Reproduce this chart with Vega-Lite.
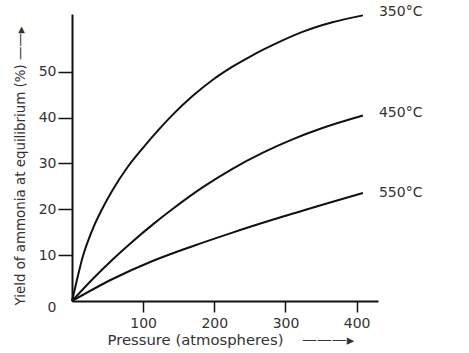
{
  "$schema": "https://vega.github.io/schema/vega-lite/v6.json",
  "width": 306,
  "height": 287,
  "autosize": "none",
  "padding": {"left": 72, "top": 14, "right": 91, "bottom": 52},
  "background": "white",
  "config": {"view": {"stroke": null}, "font": "DejaVu Sans"},
  "datasets": {
    "curves": [
      {"series": "350", "p": 0, "y": 0},
      {"series": "350", "p": 6.6, "y": 4.36},
      {"series": "350", "p": 15.0, "y": 9.59},
      {"series": "350", "p": 29.1, "y": 15.70},
      {"series": "350", "p": 43.1, "y": 20.28},
      {"series": "350", "p": 57.1, "y": 24.20},
      {"series": "350", "p": 78.2, "y": 29.22},
      {"series": "350", "p": 99.2, "y": 33.30},
      {"series": "350", "p": 120.3, "y": 37.10},
      {"series": "350", "p": 141.3, "y": 40.60},
      {"series": "350", "p": 169.4, "y": 44.70},
      {"series": "350", "p": 197.5, "y": 48.20},
      {"series": "350", "p": 225.5, "y": 51.10},
      {"series": "350", "p": 253.6, "y": 53.60},
      {"series": "350", "p": 281.7, "y": 55.80},
      {"series": "350", "p": 323.8, "y": 58.70},
      {"series": "350", "p": 365.9, "y": 60.80},
      {"series": "350", "p": 408.8, "y": 62.30},
      {"series": "450", "p": 0, "y": 0},
      {"series": "450", "p": 29.1, "y": 4.80},
      {"series": "450", "p": 57.1, "y": 9.07},
      {"series": "450", "p": 85.2, "y": 13.00},
      {"series": "450", "p": 113.3, "y": 16.66},
      {"series": "450", "p": 141.3, "y": 20.06},
      {"series": "450", "p": 183.4, "y": 24.77},
      {"series": "450", "p": 225.5, "y": 28.83},
      {"series": "450", "p": 267.6, "y": 32.29},
      {"series": "450", "p": 309.8, "y": 35.24},
      {"series": "450", "p": 351.9, "y": 37.72},
      {"series": "450", "p": 408.8, "y": 40.45},
      {"series": "550", "p": 0, "y": 0},
      {"series": "550", "p": 57.1, "y": 4.80},
      {"series": "550", "p": 113.3, "y": 8.72},
      {"series": "550", "p": 169.4, "y": 11.95},
      {"series": "550", "p": 225.5, "y": 14.92},
      {"series": "550", "p": 281.7, "y": 17.71},
      {"series": "550", "p": 351.9, "y": 20.98},
      {"series": "550", "p": 408.8, "y": 23.55}
    ],
    "labels": [
      {"label": "350°C", "p": 408.8, "y": 63.0},
      {"label": "450°C", "p": 408.8, "y": 41.0},
      {"label": "550°C", "p": 408.8, "y": 23.5}
    ]
  },
  "layer": [
    {
      "data": {"name": "curves"},
      "mark": {"type": "line", "interpolate": "monotone", "color": "#111", "strokeWidth": 2},
      "encoding": {
        "x": {
          "field": "p", "type": "quantitative",
          "scale": {"domain": [0, 430], "nice": false, "zero": false},
          "axis": {
            "values": [100, 200, 300, 400],
            "grid": false,
            "title": "Pressure (atmospheres)\u00a0\u00a0\u00a0\u00a0\u2014\u2014\u2014\u25B8",
            "domainColor": "#111", "domainWidth": 2,
            "tickColor": "#111", "tickWidth": 1.5, "tickSize": 11,
            "labelFontSize": 14, "labelColor": "#333", "labelPadding": 4,
            "titleFontSize": 14.8, "titleFontWeight": "normal", "titleColor": "#333",
            "titleX": 35, "titleY": 39, "titleBaseline": "middle", "titleAlign": "left"
          }
        },
        "y": {
          "field": "y", "type": "quantitative",
          "scale": {"domain": [0, 62.6], "nice": false, "zero": false},
          "axis": {
            "values": [0, 10, 20, 30, 40, 50],
            "grid": false,
            "title": "Yield of ammonia at equilibrium (%)\u00a0\u2014\u2014\u25B8",
            "domainColor": "#111", "domainWidth": 2,
            "tickColor": "#111", "tickWidth": 1.5, "tickSize": 14,
            "tickOpacity": {"condition": {"test": "datum.value === 0", "value": 0}, "value": 1},
            "labelOffset": {"condition": {"test": "datum.value === 0", "value": 6}, "value": 0},
            "labelFontSize": 14, "labelColor": "#333", "labelPadding": 2,
            "titleFontSize": 13.4, "titleFontWeight": "normal", "titleColor": "#333",
            "titleAngle": -90, "titleX": -52, "titleY": 291, "titleBaseline": "middle", "titleAlign": "left"
          }
        },
        "detail": {"field": "series"}
      }
    },
    {
      "data": {"name": "labels"},
      "mark": {"type": "text", "align": "left", "baseline": "middle", "dx": 16, "fontSize": 14, "color": "#333"},
      "encoding": {
        "x": {"field": "p", "type": "quantitative"},
        "y": {"field": "y", "type": "quantitative"},
        "text": {"field": "label"}
      }
    }
  ]
}
